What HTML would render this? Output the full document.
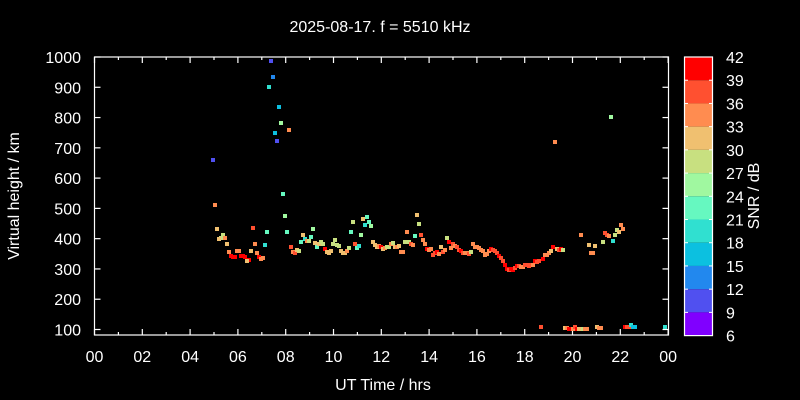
<!DOCTYPE html>
<html><head><meta charset="utf-8"><style>
html,body{margin:0;padding:0;background:#000;width:800px;height:400px;overflow:hidden}
svg text{font-family:"Liberation Sans",sans-serif;fill:#fff;font-size:16px}
</style></head><body>
<svg id="s" width="800" height="400" xmlns="http://www.w3.org/2000/svg">
<rect width="800" height="400" fill="#000"/>
<text x="380" y="32" text-anchor="middle">2025-08-17. f = 5510 kHz</text>
<text x="383" y="390" text-anchor="middle">UT Time / hrs</text>
<text transform="translate(19,196) rotate(-90)" text-anchor="middle">Virtual height / km</text>
<text transform="translate(759,196) rotate(-90)" text-anchor="middle">SNR / dB</text>
<g id="ax" stroke="#fff" stroke-width="1.2" fill="none">
<rect x="94.5" y="57" width="574" height="278"/>
</g>
<g id="lab"></g>
<g id="pts"></g>
<g id="cb"></g>
</svg>
<script>
var ns="http://www.w3.org/2000/svg";
function el(p,t,a,txt){var e=document.createElementNS(ns,t);for(var k in a)e.setAttribute(k,a[k]);if(txt!=null)e.textContent=txt;document.getElementById(p).appendChild(e);return e;}
for(var h=0;h<=24;h++){var x=94.5+h*573.6/24;var L=h%2==0?6:3;
el('ax','line',{x1:x,y1:335,x2:x,y2:335-L});el('ax','line',{x1:x,y1:57,x2:x,y2:57+L});
if(h%2==0){var hh=h%24;el('lab','text',{x:x,y:362,'text-anchor':'middle'},(hh<10?'0':'')+hh);}}
for(var v=100;v<=1000;v+=100){var y=329.5-(v-100)*272.5/900;
el('ax','line',{x1:94.5,y1:y,x2:100.5,y2:y});el('ax','line',{x1:668.5,y1:y,x2:662.5,y2:y});
el('lab','text',{x:81,y:y+6,'text-anchor':'end'},v);}
var C={a:'#ff0000',b:'#ff5030',c:'#ff8c50',d:'#f0c070',e:'#c8e080',f:'#a0f8a0',g:'#66f8c0',h:'#30e0d0',i:'#0cc0e0',j:'#2288ee',k:'#5050f0',l:'#8000ff'};
var bands='abcdefghijkl';
for(var i=0;i<12;i++){var y0=57+i*278.6/12;el('cb','rect',{x:684.5,y:y0,width:28,height:278.6/12,fill:C[bands[i]]});}
el('cb','rect',{x:684.5,y:57,width:28,height:278.6,fill:'none',stroke:'#fff','stroke-width':1.2});
for(var i=0;i<=12;i++){var y=57+i*278.6/12;
if(i>0&&i<12){el('cb','line',{x1:684.5,y1:y,x2:688,y2:y,stroke:'#fff'});el('cb','line',{x1:712.5,y1:y,x2:709,y2:y,stroke:'#fff'});}
el('lab','text',{x:726,y:y+6},42-3*i);}
var P="271,61,k;273,77,j;269,87,h;279,107,i;281,123,f;289,130,c;275,133,i;277,141,k;213,160,k;283,194,g;215,205,c;285,216,f;217,229,d;253,228,b;223,235,e;267,232,g;287,232,g;221,238,e;219,239,d;225,238,c;227,244,d;255,244,c;265,245,h;303,235,d;313,229,f;291,247,b;305,239,h;311,237,g;301,242,g;307,241,c;309,241,e;229,252,c;237,251,c;239,251,c;251,251,d;257,253,c;231,256,a;233,257,a;235,257,a;241,256,a;243,256,a;245,257,a;249,260,a;247,261,d;259,257,a;261,259,c;263,258,c;293,252,c;295,253,b;297,250,d;299,251,e;315,243,d;317,247,g;319,244,d;321,242,e;323,244,e;325,249,a;327,252,d;329,253,d;331,251,d;333,244,e;335,240,e;337,245,e;339,246,e;341,251,d;343,253,d;345,253,d;347,251,c;349,248,e;353,222,e;351,232,g;355,244,b;357,248,g;359,246,h;361,235,f;363,219,d;367,217,g;365,225,h;369,222,g;371,226,f;373,242,d;375,245,d;377,247,d;379,246,c;381,247,a;383,249,d;385,248,c;387,247,e;389,247,e;391,244,c;393,243,e;395,247,d;397,247,c;399,246,d;401,252,c;403,252,c;405,242,e;409,242,e;411,244,b;413,245,c;407,232,c;417,215,d;419,224,e;415,236,g;421,235,b;423,240,c;425,244,c;427,249,a;429,250,c;431,249,c;433,255,b;435,253,b;437,252,a;439,254,c;441,247,d;443,252,b;445,250,c;447,238,e;449,242,a;451,248,c;453,244,b;455,246,c;457,247,b;459,250,b;461,251,a;463,253,b;465,253,c;467,253,c;469,254,b;471,252,e;473,244,c;475,247,c;477,247,c;479,248,c;481,250,c;483,251,c;485,255,c;487,254,c;489,251,c;491,249,a;493,250,b;495,251,b;497,253,b;499,256,a;501,258,b;503,261,b;505,265,a;507,269,a;509,270,b;511,269,a;513,270,a;515,268,b;517,266,a;519,266,b;521,267,c;523,267,c;525,265,b;527,265,b;529,266,b;531,265,b;533,265,c;535,261,a;537,262,b;539,261,b;543,259,a;545,255,c;547,255,c;549,253,c;551,251,d;553,247,a;557,249,d;559,250,b;561,249,a;563,250,e;581,235,c;589,245,d;591,253,c;593,253,c;595,246,d;603,242,e;605,233,b;607,235,b;609,236,c;613,241,h;615,235,e;617,230,e;619,232,d;621,225,c;623,229,c;541,327,b;565,328,d;567,328,c;569,329,a;571,329,a;573,329,c;575,327,b;577,329,a;579,329,d;583,329,e;585,329,c;587,329,c;597,327,d;599,328,c;601,328,c;625,327,a;627,327,b;629,327,b;631,325,h;633,327,i;635,327,i;665,327,h;611,117,f;555,142,c";
P.split(';').forEach(function(s){var q=s.split(',');el('pts','rect',{x:+q[0]-2,y:+q[1]-2,width:4,height:4,fill:C[q[2]]});});
</script>
</body></html>
